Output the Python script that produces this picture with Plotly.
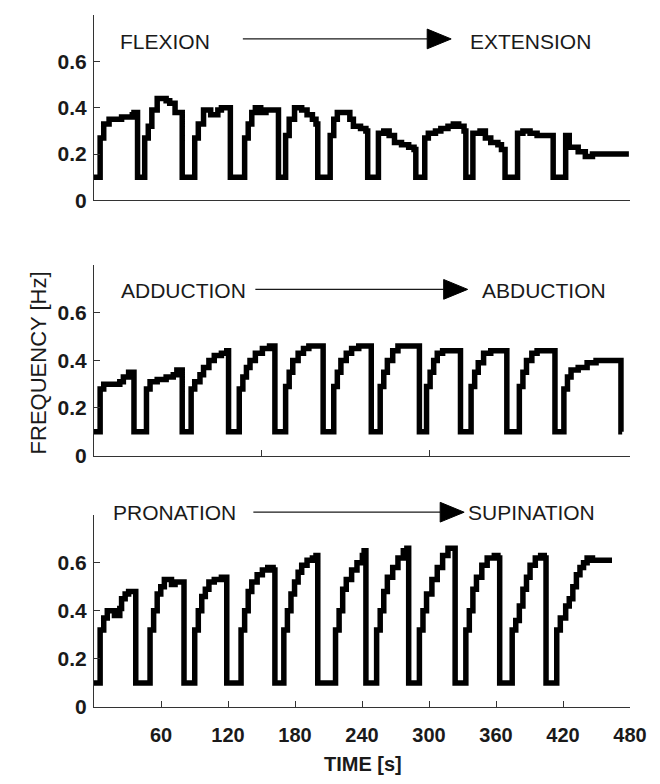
import plotly.graph_objects as go

# ---------------- data (time in s, frequency in Hz) ----------------
flex_t = [0, 5.5, 8.7, 13.5, 24.7, 34.3, 35.8, 39,
          45.4, 48.6, 51.8, 56.6, 64.6, 67.8, 72.6, 79,
          90.2, 93.4, 98.1, 104.5, 110.9, 114.1, 122.1,
          134.9, 138.1, 141.3, 144.5, 149.3, 154, 165.2,
          171.6, 174.8, 179.6, 186, 190.8, 195.6, 198.8, 200.4,
          211.5, 214.7, 217.9, 229.1, 232.3, 238.7, 243.5, 245.1,
          254.7, 259.5, 264.3, 269.1, 275.4, 281.8, 286.6, 288.2,
          296.2, 299.4, 305.8, 310.6, 317, 321.8, 326.6, 331.4, 333,
          339.3, 345.7, 350.5, 355.3, 361.7, 364.9, 368.1,
          379.3, 384.1, 390.5, 396.8, 411.2,
          422.4, 425.6, 433.6, 440, 446.4, 479]
flex_f = [0.10, 0.27, 0.33, 0.35, 0.36, 0.37, 0.38, 0.10,
          0.27, 0.32, 0.39, 0.44, 0.43, 0.42, 0.38, 0.10,
          0.27, 0.33, 0.39, 0.37, 0.39, 0.40, 0.10,
          0.27, 0.33, 0.38, 0.40, 0.38, 0.39, 0.10,
          0.28, 0.35, 0.40, 0.39, 0.37, 0.35, 0.33, 0.10,
          0.28, 0.35, 0.38, 0.35, 0.32, 0.31, 0.30, 0.10,
          0.29, 0.30, 0.28, 0.25, 0.24, 0.23, 0.22, 0.10,
          0.27, 0.29, 0.30, 0.31, 0.32, 0.33, 0.32, 0.30, 0.10,
          0.29, 0.30, 0.27, 0.25, 0.24, 0.22, 0.10,
          0.29, 0.30, 0.29, 0.28, 0.10,
          0.28, 0.23, 0.21, 0.19, 0.20, 0.20]

abd_t = [0, 5.5, 8.7, 23.1, 26.3, 31, 35.8,
         47, 50.2, 56.6, 64.6, 71, 74.2, 79,
         87, 90.2, 94.9, 98.1, 102.9, 107.7, 114.1, 118.9, 120.5,
         130.1, 133.3, 136.5, 139.7, 144.5, 150.8, 157.2, 162,
         171.6, 174.8, 178, 182.8, 187.6, 192.4, 205.2,
         214.7, 217.9, 221.1, 225.9, 230.7, 237.1, 248.3,
         256.3, 259.5, 262.7, 267.5, 272.2, 291.4,
         297.8, 301, 304.2, 307.4, 312.2, 328.2,
         337.7, 340.9, 344.1, 348.9, 355.3, 369.7,
         380.9, 384.1, 387.3, 392.1, 396.8, 412.8,
         420.8, 424, 427.2, 433.6, 441.6, 449.6, 471.9, 473]
abd_f = [0.10, 0.28, 0.30, 0.31, 0.33, 0.35, 0.10,
         0.28, 0.31, 0.32, 0.33, 0.34, 0.36, 0.10,
         0.28, 0.31, 0.34, 0.37, 0.40, 0.42, 0.43, 0.44, 0.10,
         0.28, 0.33, 0.37, 0.40, 0.43, 0.45, 0.46, 0.10,
         0.29, 0.35, 0.40, 0.43, 0.45, 0.46, 0.10,
         0.29, 0.35, 0.40, 0.43, 0.45, 0.46, 0.10,
         0.29, 0.35, 0.40, 0.44, 0.46, 0.10,
         0.29, 0.35, 0.40, 0.43, 0.44, 0.10,
         0.29, 0.35, 0.39, 0.43, 0.44, 0.10,
         0.29, 0.35, 0.40, 0.43, 0.44, 0.10,
         0.28, 0.33, 0.36, 0.37, 0.39, 0.40, 0.10, 0.10]

sup_t = [0, 5.5, 8.7, 11.9, 18.3, 23.1, 24.7, 27.9, 31, 37.4,
         50.2, 53.4, 56.6, 59.8, 63, 69.4, 72.6, 80.6,
         90.2, 93.4, 96.5, 99.7, 102.9, 107.7, 114.1, 118.9,
         131.7, 134.9, 138.1, 141.3, 146.1, 150.8, 155.6, 160.4, 162,
         170, 173.2, 176.4, 179.6, 182.8, 186, 190.8, 195.6, 198.8, 200.4,
         216.3, 219.5, 222.7, 225.9, 230.7, 235.5, 240.3, 241.9, 243.5,
         253.1, 256.3, 259.5, 262.7, 267.5, 272.2, 277, 280.2, 281.8,
         291.4, 294.6, 297.8, 302.6, 307.4, 312.2, 317, 323.4,
         333, 336.1, 339.3, 342.5, 347.3, 352.1, 358.5, 361.7, 363.3,
         374.5, 377.7, 380.9, 384.1, 387.3, 390.5, 395.2, 400, 403.2, 404.8,
         414.4, 417.6, 422.4, 425.6, 428.8, 432, 435.2, 438.4, 441.6, 446.4, 463.9]
sup_f = [0.10, 0.32, 0.37, 0.40, 0.38, 0.41, 0.45, 0.47, 0.48, 0.10,
         0.32, 0.40, 0.47, 0.50, 0.53, 0.51, 0.52, 0.10,
         0.32, 0.40, 0.46, 0.49, 0.52, 0.53, 0.54, 0.10,
         0.32, 0.40, 0.48, 0.52, 0.55, 0.57, 0.58, 0.57, 0.10,
         0.32, 0.40, 0.47, 0.52, 0.56, 0.59, 0.61, 0.62, 0.63, 0.10,
         0.32, 0.40, 0.49, 0.53, 0.57, 0.60, 0.63, 0.65, 0.10,
         0.32, 0.40, 0.48, 0.54, 0.58, 0.62, 0.65, 0.66, 0.10,
         0.32, 0.40, 0.47, 0.53, 0.58, 0.63, 0.66, 0.10,
         0.32, 0.40, 0.49, 0.54, 0.59, 0.62, 0.63, 0.62, 0.10,
         0.32, 0.36, 0.42, 0.49, 0.54, 0.59, 0.62, 0.63, 0.62, 0.10,
         0.32, 0.37, 0.42, 0.45, 0.50, 0.55, 0.58, 0.60, 0.62, 0.61, 0.61]

y_ticks = [0, 0.2, 0.4, 0.6]
y_labels = ["0", "0.2", "0.4", "0.6"]
x_ticks = [60, 120, 180, 240, 300, 360, 420, 480]
mid_ticks = [150, 300]

panel_labels = [("FLEXION", "EXTENSION"), ("ADDUCTION", "ABDUCTION"),
                ("PRONATION", "SUPINATION")]

# ---------------- layout geometry (pixels) ----------------
W, H = 660, 784
L, R = 93.5, 30
PW = W - L - R


def px(xp):
    return (xp - L) / PW


def py(yp):
    return 1 - yp / H


AX = "#333333"
TXT = "#1a1a1a"
FAM = "Liberation Sans, Arial, sans-serif"
ytick_font = dict(family=FAM, size=21, color=TXT, weight="bold")
xtick_font = dict(family=FAM, size=20, color=TXT, weight="bold")

fig = go.Figure()
series = [(flex_t, flex_f), (abd_t, abd_f), (sup_t, sup_f)]
for i, (t, f) in enumerate(series):
    s = "" if i == 0 else str(i + 1)
    fig.add_trace(go.Scatter(x=t, y=f, mode="lines", line_shape="hv",
                             line=dict(color="black", width=5.5),
                             xaxis="x" + s, yaxis="y" + s,
                             showlegend=False, hoverinfo="skip"))

# y domains from pixel rows: (zero line, 0.8 line)
ydom = [(203.3, 15.3), (462, 269), (717, 522)]
for i, (yb, yt) in enumerate(ydom):
    s = "" if i == 0 else str(i + 1)
    yax = dict(domain=[py(yb), py(yt)], range=[0, 0.8], anchor="x" + s,
               tickvals=y_ticks, ticktext=y_labels, ticks="inside",
               ticklen=6, tickcolor=AX, showline=True, linecolor=AX,
               linewidth=1, showgrid=False, zeroline=False,
               tickfont=ytick_font, ticklabelstandoff=2)
    xax = dict(domain=[0, 1], range=[0, 480], anchor="y" + s,
               showline=True, linecolor=AX, linewidth=1, showgrid=False,
               zeroline=False)
    if i == 0:
        xax.update(ticks="", showticklabels=False)
    elif i == 1:
        xax.update(tickvals=mid_ticks, ticks="inside", ticklen=6,
                   tickcolor=AX, showticklabels=False)
    else:
        xax.update(tickvals=x_ticks, ticktext=[str(v) for v in x_ticks],
                   ticks="inside", ticklen=6, tickcolor=AX,
                   tickfont=xtick_font, ticklabelstandoff=10)
    fig.update_layout(**{"xaxis" + s: xax, "yaxis" + s: yax})

# ---------------- panel titles and arrows ----------------
lab_font = dict(family=FAM, size=21, color=TXT)
# (left text x, right text x, text y, arrow start x, arrow tip x, arrow y)
title_geo = [(117.5, 467.5, 42, 242.5, 451, 39.5),
             (118.6, 480, 295, 255, 467.5, 293.5),
             (111, 465.7, 520, 253, 464, 519.5)]
annotations = []
shapes = []
for (left, right), (lx, rx, ty, ax0, ax1, ay) in zip(panel_labels, title_geo):
    annotations.append(dict(text=left, x=px(lx), y=py(ty), xref="paper",
                            yref="paper", xanchor="left", yanchor="middle",
                            showarrow=False, font=lab_font))
    annotations.append(dict(text=right, x=px(rx), y=py(ty), xref="paper",
                            yref="paper", xanchor="left", yanchor="middle",
                            showarrow=False, font=lab_font))
    hl, hh = 24, 10
    shapes.append(dict(type="line", xref="paper", yref="paper",
                       x0=px(ax0), x1=px(ax1 - hl), y0=py(ay), y1=py(ay),
                       line=dict(color=TXT, width=1.2)))
    path = "M {},{} L {},{} L {},{} Z".format(
        px(ax1), py(ay), px(ax1 - hl), py(ay - hh), px(ax1 - hl), py(ay + hh))
    shapes.append(dict(type="path", xref="paper", yref="paper", path=path,
                       fillcolor="black", line=dict(color="black", width=1)))

# axis titles
annotations.append(dict(text="TIME [s]", x=px(363), y=py(775), xref="paper",
                        yref="paper", xanchor="center", yanchor="middle",
                        showarrow=False,
                        font=dict(family=FAM, size=20, color=TXT,
                                  weight="bold")))
annotations.append(dict(text="FREQUENCY [Hz]", x=px(38), y=py(368),
                        xref="paper", yref="paper", xanchor="center",
                        yanchor="middle", textangle=-90, showarrow=False,
                        font=dict(family=FAM, size=22, color=TXT)))

fig.update_layout(width=W, height=H, margin=dict(l=L, r=R, t=0, b=0),
                  paper_bgcolor="white", plot_bgcolor="white",
                  annotations=annotations, shapes=shapes)

fig.write_html("out.html",
               config={"displayModeBar": False, "staticPlot": True},
               post_script="document.body.style.margin='0';"
                           "document.body.style.padding='0';"
                           "document.documentElement.style.overflow='hidden';")
